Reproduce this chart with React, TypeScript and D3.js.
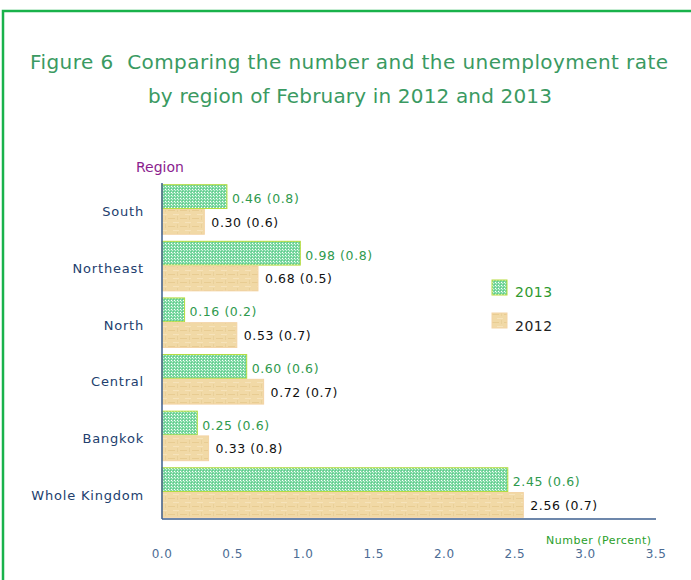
import React from "react";
import * as d3 from "d3";

const regions = ["South", "Northeast", "North", "Central", "Bangkok", "Whole Kingdom"];
const values2013 = [0.46, 0.98, 0.16, 0.6, 0.25, 2.45];
const rates2013 = [0.8, 0.8, 0.2, 0.6, 0.6, 0.6];
const values2012 = [0.3, 0.68, 0.53, 0.72, 0.33, 2.56];
const rates2012 = [0.6, 0.5, 0.7, 0.7, 0.8, 0.7];
const xTicks = [0, 0.5, 1, 1.5, 2, 2.5, 3, 3.5];

const W = 691;
const H = 580;
const font = "'DejaVu Sans', Verdana, sans-serif";

export default function App() {
  const x = d3.scaleLinear().domain([0, 3.5]).range([162, 656]);
  const y = d3.scaleBand().domain(regions).range([183, 519]).paddingInner(0.125).paddingOuter(0.03);
  const bh = y.bandwidth() / 2;
  const fmt = d3.format(".2f");

  return (
    <svg width={W} height={H} style={{ position: "absolute", left: 0, top: 0 }}>
      <defs>
        <pattern id="p2013" width="3" height="3" patternUnits="userSpaceOnUse">
          <rect width="3" height="3" fill="#7dd8a3" />
          <rect x="0" y="0" width="1" height="1" fill="#ffffff" />
          <rect x="1" y="1" width="1" height="1" fill="#c9f1d9" />
          <rect x="2" y="2" width="1" height="1" fill="#5ecb8b" />
        </pattern>
        <pattern id="p2012" width="12" height="8" patternUnits="userSpaceOnUse">
          <rect width="12" height="8" fill="#f1d9a6" />
          <rect x="0" y="2" width="7" height="1" fill="#e8cc92" />
          <rect x="5" y="6" width="6" height="1" fill="#f6e3bb" />
          <rect x="9" y="0" width="1" height="4" fill="#e9d09a" />
        </pattern>
      </defs>
      <rect x={0} y={0} width={W} height={H} fill="#ffffff" />
      {/* frame */}
      <path d={`M3,${H} L3,11 L${W},11`} fill="none" stroke="#19b24b" strokeWidth={2.5} />

      {/* title */}
      <text x={349} y={69} textAnchor="middle" fontFamily={font} fontSize={20} fill="#3a9a62" textLength={638} lengthAdjust="spacing">
        {"Figure 6\u00a0\u00a0Comparing the number and the unemployment rate"}
      </text>
      <text x={350} y={103} textAnchor="middle" fontFamily={font} fontSize={20} fill="#3a9a62" textLength={404} lengthAdjust="spacing">
        by region of February in 2012 and 2013
      </text>

      <text x={136} y={172} fontFamily={font} fontSize={14} fill="#8b1e8e">Region</text>

      {/* bars */}
      {regions.map((r, i) => {
        const y0 = y(r)!;
        return (
          <g key={r}>
            <rect x={x(0)} y={y0} width={x(values2013[i]) - x(0)} height={bh - 1} fill="url(#p2013)" stroke="#b5dc3c" strokeWidth={1} />
            <rect x={x(0)} y={y0 + bh} width={x(values2012[i]) - x(0)} height={bh} fill="url(#p2012)" stroke="#f3d3a4" strokeWidth={1} />
            <text x={x(values2013[i]) + 5} y={y0 + bh / 2 + 6} fontFamily={font} fontSize={12.5} letterSpacing={0.6} fill="#2f9a4e">
              {`${fmt(values2013[i])} (${rates2013[i].toFixed(1)})`}
            </text>
            <text x={x(values2012[i]) + 7} y={y0 + bh + bh / 2 + 5} fontFamily={font} fontSize={12.5} letterSpacing={0.6} fill="#111111">
              {`${fmt(values2012[i])} (${rates2012[i].toFixed(1)})`}
            </text>
            <text x={144} y={y0 + bh + 7} textAnchor="end" fontFamily={font} fontSize={13} letterSpacing={0.8} fill="#22406e">
              {r}
            </text>
          </g>
        );
      })}

      {/* axes */}
      <line x1={x(0)} x2={x(0)} y1={183} y2={519} stroke="#3d5f8f" strokeWidth={1.5} />
      <line x1={x(0)} x2={656} y1={519} y2={519} stroke="#3d5f8f" strokeWidth={1.5} />
      {xTicks.map((t) => (
        <text key={t} x={x(t)} y={558} textAnchor="middle" fontFamily={font} fontSize={12} letterSpacing={0.5} fill="#4c6c94">
          {t.toFixed(1)}
        </text>
      ))}
      <text x={546} y={544} fontFamily={font} fontSize={11} letterSpacing={0.5} fill="#2aa02a">Number (Percent)</text>

      {/* legend */}
      <rect x={492} y={280} width={15} height={15} fill="url(#p2013)" stroke="#b5dc3c" strokeWidth={1} />
      <text x={515} y={297} fontFamily={font} fontSize={14} letterSpacing={0.5} fill="#2f9a2f">2013</text>
      <rect x={492} y={313} width={15} height={15} fill="url(#p2012)" stroke="#f3d3a4" strokeWidth={1} />
      <text x={515} y={331} fontFamily={font} fontSize={14} letterSpacing={0.5} fill="#222222">2012</text>
    </svg>
  );
}
